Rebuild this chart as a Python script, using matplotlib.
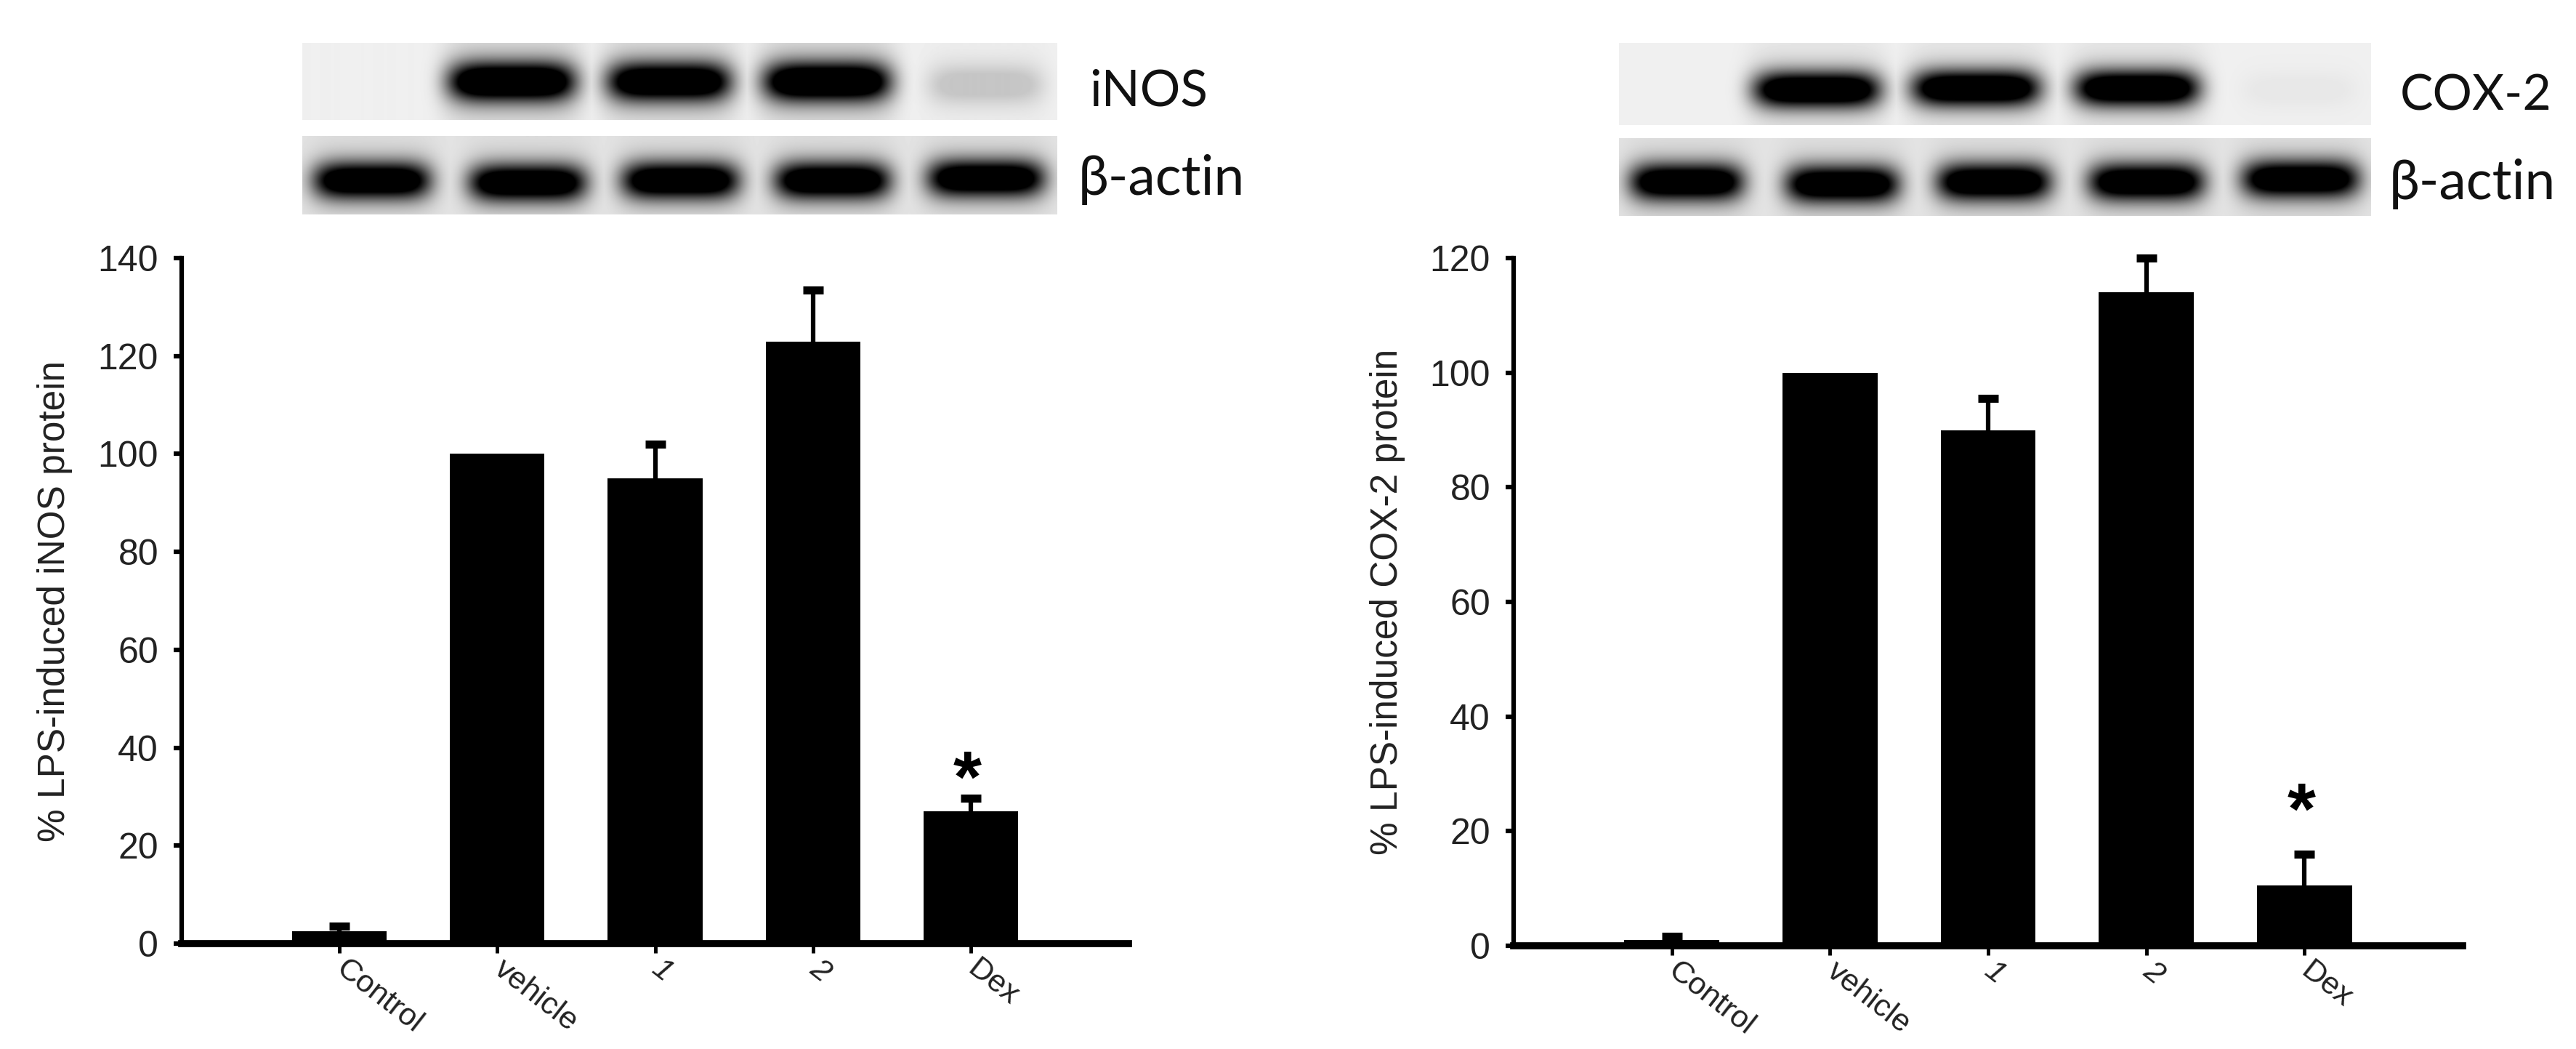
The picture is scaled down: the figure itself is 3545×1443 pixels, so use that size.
import numpy as np
import matplotlib
matplotlib.use('Agg')  # no display
import matplotlib.pyplot as plt

W, H = 3545, 1443

categories = ['Control', 'vehicle', '1', '2', 'Dex']

inos_values = [2.5, 100, 95, 123, 27]
inos_errors = [1, 0, 7, 10.5, 2.7]
inos_ticks = [0, 20, 40, 60, 80, 100, 120, 140]

cox_values = [1, 100, 90, 114, 10.5]
cox_errors = [0.7, 0, 5.5, 6, 5.5]
cox_ticks = [0, 20, 40, 60, 80, 100, 120]

# band darkness per lane, read from the blots
inos_bands = [0, 1.0, 0.95, 1.0, 0.15]
inos_actin = [1.0, 1.0, 1.0, 1.0, 1.0]
cox_bands = [0, 1.0, 1.0, 1.0, 0.03]
cox_actin = [1.0, 1.0, 1.0, 1.0, 1.0]

plt.rcParams['font.family'] = ['Liberation Sans', 'DejaVu Sans']


def pixel_axes(fig, x0, y0, x1, y1):
    # axes from pixel box, y counted from the top
    return fig.add_axes([x0 / W, 1 - y1 / H, (x1 - x0) / W, (y1 - y0) / H])


def draw_blot(fig, box, lanes, strengths, yc, half_h, bg, smear_amp):
    x0, y0, x1, y1 = box
    ax = pixel_axes(fig, x0, y0, x1, y1)
    xx, yy = np.meshgrid(np.arange(x0, x1), np.arange(y0, y1))
    img = np.zeros(xx.shape)
    for (a, b), s, c in zip(lanes, strengths, yc):
        mid, half = (a + b) / 2, (b - a) / 2
        shape_x = np.exp(-np.abs((xx - mid) / half) ** 5)
        shape_y = np.exp(-np.abs((yy - c) / half_h) ** 2)
        smear = smear_amp * np.exp(-((yy - c) / (half_h * 2.8)) ** 2) * np.exp(-np.abs((xx - mid) / (half * 1.1)) ** 6)
        img = np.maximum(img, s * np.clip(1.35 * shape_x * shape_y, 0, 1) + s * smear)
    ax.imshow(bg * (1 - np.clip(img, 0, 1)), cmap='gray', vmin=0, vmax=1, aspect='auto')
    ax.axis('off')


def draw_bars(fig, box, values, errors, ticks, ylabel, star_y, label_x):
    x0, y0, x1, y1 = box
    ax = pixel_axes(fig, x0, y0, x1, y1)
    x = np.arange(len(values))
    ax.bar(x, values, width=0.6, color='black')
    for xi, v, e in zip(x, values, errors):
        if e > 0:
            ax.vlines(xi, v, v + e, color='black', linewidth=4.5)
            ax.plot([xi], [v + e], marker='_', markersize=20, markeredgewidth=8,
                    color='black', clip_on=False)
    ax.set_xlim(-1, 5)
    ax.set_ylim(0, ticks[-1])
    ax.set_yticks(ticks)
    ax.set_xticks(x)
    ax.set_xticklabels(categories, rotation=-38, rotation_mode='anchor',
                       ha='left', va='center', fontsize=31, color='#222222')
    ax.get_xticklabels()[2].set_style('italic')
    ax.get_xticklabels()[3].set_style('italic')
    ax.tick_params(axis='y', labelsize=36, length=8, width=4.5, pad=15, labelcolor='#222222')
    ax.tick_params(axis='x', length=9, width=3.5, pad=13)
    for side in ['top', 'right']:
        ax.spines[side].set_visible(False)
    ax.spines['left'].set_linewidth(4.5)
    ax.spines['bottom'].set_linewidth(7)
    ax.set_ylabel(ylabel, fontsize=37, color='#222222')
    ax.yaxis.set_label_coords(label_x, 0.5)
    ax.text(3.98, star_y, '*', fontsize=72, fontweight='bold', ha='center', va='center')


fig = plt.figure(figsize=(W / 100, H / 100), dpi=100)

# iNOS blots
draw_blot(fig, (416, 59, 1454, 165),
          [(617, 791), (835, 1005), (1050, 1224), (1277, 1434)],
          inos_bands[1:], [112, 112, 112, 116], 27, 0.94, 0.16)
draw_blot(fig, (416, 187, 1454, 295),
          [(431, 592), (645, 806), (855, 1016), (1065, 1224), (1275, 1436)],
          inos_actin, [248, 251, 248, 248, 245], 26, 0.89, 0.06)
# COX-2 blots
draw_blot(fig, (2228, 59, 3263, 172),
          [(2413, 2587), (2631, 2807), (2855, 3026), (3085, 3242)],
          cox_bands[1:], [123, 121, 121, 123], 25, 0.94, 0.1)
draw_blot(fig, (2228, 190, 3263, 297),
          [(2243, 2399), (2457, 2613), (2665, 2822), (2874, 3033), (3085, 3246)],
          cox_actin, [250, 253, 250, 250, 246], 26, 0.89, 0.06)

# blot labels
blot_font = ['Lato', 'Open Sans', 'DejaVu Sans']
fig.text(1581 / W, 1 - 126 / H, 'iNOS', family=blot_font, fontsize=50, ha='center', va='center', color='#111111')
fig.text(1598 / W, 1 - 247 / H, 'β-actin', family=blot_font, fontsize=54, ha='center', va='center', color='#111111')
fig.text(3407 / W, 1 - 133 / H, 'COX-2', family=blot_font, fontsize=49, ha='center', va='center', color='#111111')
fig.text(3402 / W, 1 - 253 / H, 'β-actin', family=blot_font, fontsize=54, ha='center', va='center', color='#111111')

draw_bars(fig, (250, 355, 1553, 1298), inos_values, inos_errors, inos_ticks,
          '% LPS-induced iNOS protein', 32.8, -0.115)
draw_bars(fig, (2083, 355, 3389, 1301), cox_values, cox_errors, cox_ticks,
          '% LPS-induced COX-2 protein', 22.9, -0.114)

fig.savefig('out.png', dpi=100)
